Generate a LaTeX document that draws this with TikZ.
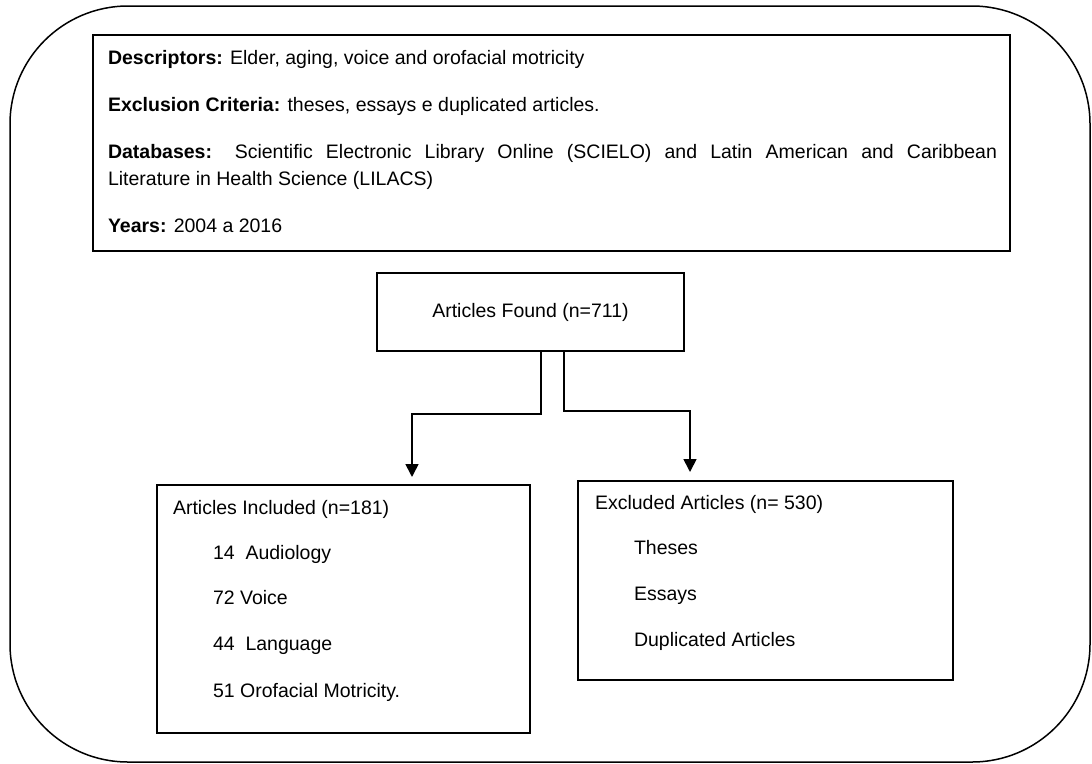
\documentclass[tikz,border=0pt]{standalone}
\usepackage{fontspec}
\setmainfont{Liberation Sans}
\usetikzlibrary{arrows.meta}
\begin{document}
\begin{tikzpicture}[x=1pt,y=-1pt,
  box/.style={draw, line width=1.3pt, inner sep=0pt, outer sep=0pt},
  frame/.style={draw, line width=1.5pt, rounded corners=118pt, inner sep=0pt, outer sep=0pt},
  txt/.style={anchor=base west, inner sep=0pt, outer sep=0pt, font=\fontsize{19.5}{26}\selectfont},
  arr/.style={line width=1.7pt, -{Triangle[width=13pt,length=13pt]}}]
\useasboundingbox (0,0) rectangle (1092,763);
\node[frame, minimum width=1080pt, minimum height=756pt] (outer) at (550,384) {};
% top box
\node[box, minimum width=917pt, minimum height=216pt] (crit) at (551.5,143) {};
\node[txt] (t1) at (108,64) {\textbf{Descriptors:} Elder, aging, voice and orofacial motricity};
\node[txt] (t2) at (108,111) {\textbf{Exclusion Criteria:} theses, essays e duplicated articles.};
\node[txt] (t3) at (108,158) {\makebox[889pt][s]{\textbf{Databases:} Scientific Electronic Library Online (SCIELO) and Latin American and Caribbean}};
\node[txt] (t4) at (108,185) {Literature in Health Science (LILACS)};
\node[txt] (t5) at (108,232) {\textbf{Years:} 2004 a 2016};
% found
\node[box, minimum width=307pt, minimum height=78pt, font=\fontsize{19.5}{26}\selectfont] (found) at (530.5,312) {Articles Found (n=711)};
% included
\node[box, minimum width=373pt, minimum height=248pt] (incl) at (343.5,609) {};
\node[txt] (i0) at (173,514) {Articles Included (n=181)};
\node[txt] (i1) at (213,559) {14\ \ Audiology};
\node[txt] (i2) at (213,604) {72 Voice};
\node[txt] (i3) at (213,650) {44\ \ Language};
\node[txt] (i4) at (213,697) {51 Orofacial Motricity.};
% excluded
\node[box, minimum width=375pt, minimum height=199pt] (excl) at (765.5,580.5) {};
\node[txt] (e0) at (595,509) {Excluded Articles (n= 530)};
\node[txt] (e1) at (634,554) {Theses};
\node[txt] (e2) at (634,600) {Essays};
\node[txt] (e3) at (634,646) {Duplicated Articles};
% connectors
\coordinate (lt) at (412,477);
\coordinate (rt) at (690,472);
\draw[arr] ([xshift=10.5pt]found.south) -- ++(0,63) -| (lt);
\draw[arr] ([xshift=33.5pt]found.south) -- ++(0,60) -| (rt);
\end{tikzpicture}
\end{document}
